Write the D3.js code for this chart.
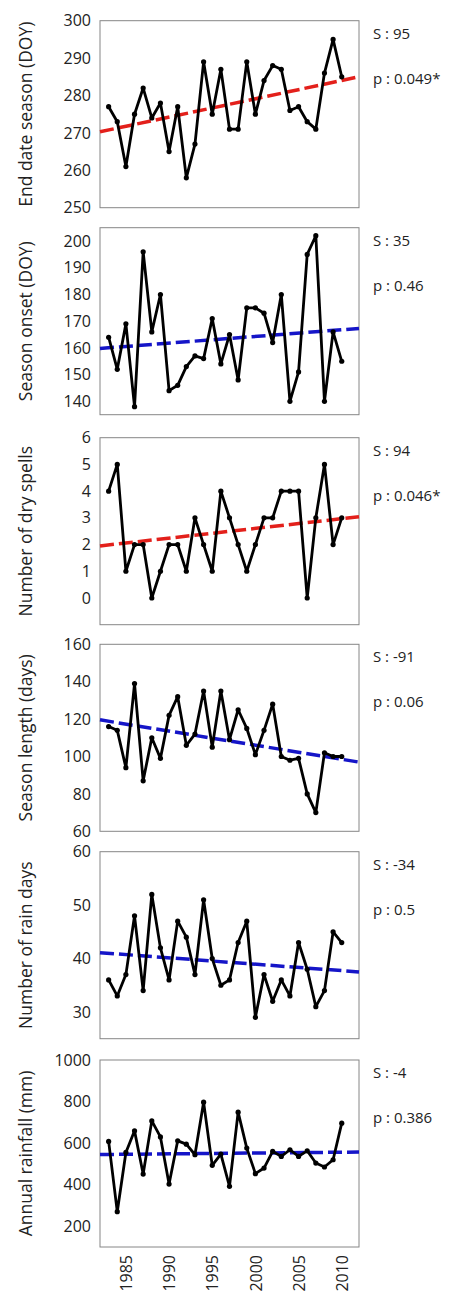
<!DOCTYPE html>
<html><head><meta charset="utf-8">
<script src="https://cdn.jsdelivr.net/npm/d3@7"></script>
<style>body{margin:0;background:#fff;}svg{display:block;}</style>
</head><body>
<script>
const years = d3.range(1983, 2011);
const endDate   = [277,273,261,275,282,274,278,265,277,258,267,289,275,287,271,271,289,275,284,288,287,276,277,273,271,286,295,285];
const onset     = [164,152,169,138,196,166,180,144,146,153,157,156,171,154,165,148,175,175,173,162,180,140,151,195,202,140,166,155];
const drySpells = [4,5,1,2,2,0,1,2,2,1,3,2,1,4,3,2,1,2,3,3,4,4,4,0,3,5,2,3];
const seasonLen = [116,114,94,139,87,110,99,122,132,106,112,135,105,135,109,125,115,101,114,128,100,98,99,80,70,102,100,100];
const rainDays  = [36,33,37,48,34,52,42,36,47,44,37,51,40,35,36,43,47,29,37,32,36,33,43,38,31,34,45,43];
const rainfall  = [608,270,555,659,451,707,630,403,611,595,544,797,493,547,392,749,576,453,480,560,536,568,536,563,504,485,520,696];

const titles   = ["End date season (DOY)","Season onset (DOY)","Number of dry spells","Season length (days)","Number of rain days","Annual rainfall (mm)"];
const sLabels  = ["S : 95","S : 35","S : 94","S : -91","S : -34","S : -4"];
const pLabels  = ["p : 0.049*","p : 0.46","p : 0.046*","p : 0.06","p : 0.5","p : 0.386"];
const domains  = [[250,300],[135,205],[-1,6],[60,160],[25,60],[100,1000]];
const tickSets = [[250,260,270,280,290,300],[140,150,160,170,180,190,200],[0,1,2,3,4,5,6],[60,80,100,120,140,160],[30,40,50,60],[200,400,600,800,1000]];
const trendStart = [270.3,159.8,1.95,119.6,41.1,545];
const trendEnd   = [285.0,167.3,3.04,97.0,37.5,557];
const trendColor = ["#e3201b","#1515c8","#e3201b","#1515c8","#1515c8","#1515c8"];
const xDomain = [1982, 2012];
const xTicks = [1985,1990,1995,2000,2005,2010];
const series = [endDate, onset, drySpells, seasonLen, rainDays, rainfall];

const W = 451, H = 1291;
const svg = d3.select("body").append("svg").attr("width", W).attr("height", H);
const left = 100, right = 359;
const tops = [20.7, 227.7, 437.7, 644.3, 851.7, 1060];
const ph = 187;
const font = "'Open Sans', sans-serif";
const x = d3.scaleLinear().domain(xDomain).range([left, right]);

series.forEach((vals, i) => {
  const top = tops[i], bottom = top + ph;
  const y = d3.scaleLinear().domain(domains[i]).range([bottom, top]);
  const g = svg.append("g");
  g.append("rect").attr("x", left).attr("y", top).attr("width", right-left).attr("height", ph)
    .attr("fill", "none").attr("stroke", "#868686").attr("stroke-width", 1);
  const ya = g.append("g").attr("transform", `translate(${left},0)`)
    .call(d3.axisLeft(y).tickValues(tickSets[i]).tickFormat(d3.format("d")).tickSize(0).tickPadding(9));
  ya.select(".domain").remove();
  ya.selectAll("text").attr("font-family", font).attr("font-size", 16).attr("fill", "#222");
  g.append("text").attr("transform", `translate(25,${(top+bottom)/2}) rotate(-90)`)
    .attr("text-anchor", "middle").attr("dominant-baseline", "central")
    .attr("font-family", font).attr("font-size", 17.5).attr("fill", "#222").text(titles[i]);
  g.append("line").attr("x1", x(xDomain[0])).attr("x2", x(xDomain[1]))
    .attr("y1", y(trendStart[i])).attr("y2", y(trendEnd[i]))
    .attr("stroke", trendColor[i]).attr("stroke-width", 3.5).attr("stroke-dasharray", "14,5");
  const line = d3.line().x((d, j) => x(years[j])).y(d => y(d));
  g.append("path").datum(vals).attr("d", line).attr("fill", "none")
    .attr("stroke", "#000").attr("stroke-width", 2.8).attr("stroke-linejoin", "round");
  g.selectAll("circle").data(vals).join("circle")
    .attr("cx", (d, j) => x(years[j])).attr("cy", d => y(d)).attr("r", 2.6).attr("fill", "#000");
  g.append("text").attr("x", 373).attr("y", top + 12).attr("dominant-baseline", "central")
    .attr("font-family", font).attr("font-size", 15).attr("fill", "#222").text(sLabels[i]);
  g.append("text").attr("x", 373).attr("y", top + 57).attr("dominant-baseline", "central")
    .attr("font-family", font).attr("font-size", 15).attr("fill", "#222").text(pLabels[i]);
  if (i === series.length - 1) {
    const xa = g.append("g").attr("transform", `translate(0,${bottom})`)
      .call(d3.axisBottom(x).tickValues(xTicks).tickFormat(d3.format("d")).tickSize(0));
    xa.select(".domain").remove();
    xa.selectAll("text").attr("font-family", font).attr("font-size", 16).attr("fill", "#222")
      .attr("transform", "rotate(-90)").attr("text-anchor", "end")
      .attr("x", -8).attr("y", 0).attr("dy", "0.35em");
  }
});
</script>
</body></html>
